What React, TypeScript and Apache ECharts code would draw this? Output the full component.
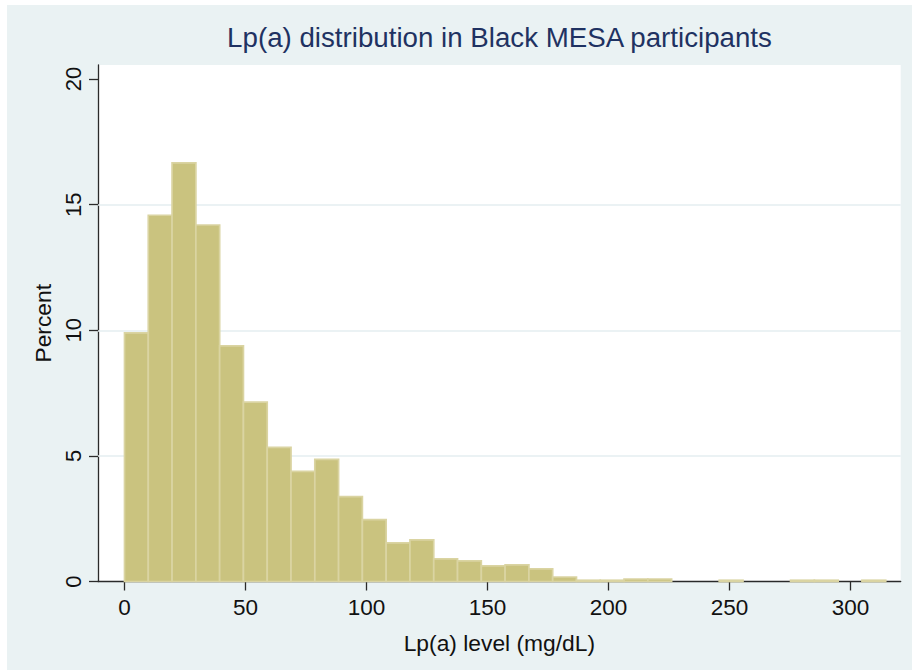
import React, { useEffect, useRef } from "react";
import * as echarts from "echarts";

// Histogram of Lp(a) levels (mg/dL), percent of participants per bin
const binWidth = 9.83;
const binPercents = [
  9.9, 14.58, 16.66, 14.19, 9.38, 7.14, 5.34, 4.38, 4.86, 3.38,
  2.46, 1.54, 1.66, 0.9, 0.82, 0.62, 0.66, 0.5, 0.18, 0.05,
  0.05, 0.1, 0.1, 0, 0, 0.05, 0, 0, 0.05, 0.05,
  0, 0.05,
];
const xTicks = [0, 50, 100, 150, 200, 250, 300];
const yTicks = [0, 5, 10, 15, 20];
const yGridLines = [5, 10, 15];

const titleText = "Lp(a) distribution in Black MESA participants";
const xName = "Lp(a) level (mg/dL)";
const yName = "Percent";

const FONT = "'Liberation Sans', Arial, Helvetica, sans-serif";

export default function App() {
  const ref = useRef<HTMLDivElement>(null);

  useEffect(() => {
    if (!ref.current) return;
    const chart = echarts.init(ref.current, undefined, { renderer: "svg" });

    const bins = binPercents
      .map((p, i) => [i * binWidth, (i + 1) * binWidth, p])
      .filter((d) => d[2] > 0);

    const axisLineStyle = { color: "#2a2a2a", width: 1.3 };

    chart.setOption({
      animation: false,
      backgroundColor: "#EAF2F3",
      graphic: [
        {
          type: "text",
          x: 492.5,
          y: 32,
          style: {
            text: titleText,
            fill: "#1F3262",
            font: `27.7px ${FONT}`,
            align: "center",
            verticalAlign: "middle",
          },
        },
      ],
      grid: {
        left: 91,
        right: 11.3,
        top: 60,
        bottom: 88.5,
        show: true,
        backgroundColor: "#ffffff",
        borderWidth: 0,
      },
      xAxis: {
        type: "value",
        min: -10.95,
        max: 320.75,
        name: xName,
        nameLocation: "middle",
        nameGap: 50,
        nameTextStyle: { fontFamily: FONT, fontSize: 22.8, color: "#111" },
        axisLine: { show: true, onZero: false, lineStyle: axisLineStyle },
        axisTick: {
          show: true,
          length: 9,
          customValues: xTicks,
          lineStyle: axisLineStyle,
        },
        axisLabel: {
          customValues: xTicks,
          margin: 14,
          fontFamily: FONT,
          fontSize: 22.5,
          color: "#111",
        },
        splitLine: { show: false },
      },
      yAxis: {
        type: "value",
        min: 0,
        max: 20.56,
        name: yName,
        nameLocation: "middle",
        nameRotate: 90,
        nameGap: 42,
        nameTextStyle: { fontFamily: FONT, fontSize: 22.8, color: "#111" },
        axisLine: { show: true, onZero: false, lineStyle: axisLineStyle },
        axisTick: {
          show: true,
          length: 9,
          customValues: yTicks,
          lineStyle: axisLineStyle,
        },
        axisLabel: {
          customValues: yTicks,
          rotate: 90,
          margin: 14,
          fontFamily: FONT,
          fontSize: 22,
          color: "#111",
        },
        splitLine: { show: false },
      },
      series: [
        {
          type: "line",
          data: [],
          z: 1,
          silent: true,
          markLine: {
            z: 1,
            silent: true,
            symbol: "none",
            label: { show: false },
            lineStyle: { color: "#E4EEF1", width: 1.6, type: "solid" },
            data: yGridLines.map((v) => ({ yAxis: v })),
          },
        },
        {
          type: "custom",
          z: 3,
          data: bins,
          encode: { x: [0, 1], y: 2 },
          renderItem: (params: any, api: any) => {
            const x0 = api.value(0);
            const x1 = api.value(1);
            const y = api.value(2);
            const pTop = api.coord([x0, y]);
            const pBot = api.coord([x1, 0]);
            return {
              type: "rect",
              shape: {
                x: pTop[0],
                y: pTop[1],
                width: pBot[0] - pTop[0],
                height: pBot[1] - pTop[1],
              },
              style: {
                fill: "#CAC37F",
                stroke: "#DAD4A2",
                lineWidth: 1.7,
              },
            };
          },
        },
      ],
    });

    return () => chart.dispose();
  }, []);

  return (
    <div
      ref={ref}
      style={{ position: "fixed", left: 7, top: 5, width: 905, height: 665 }}
    />
  );
}
